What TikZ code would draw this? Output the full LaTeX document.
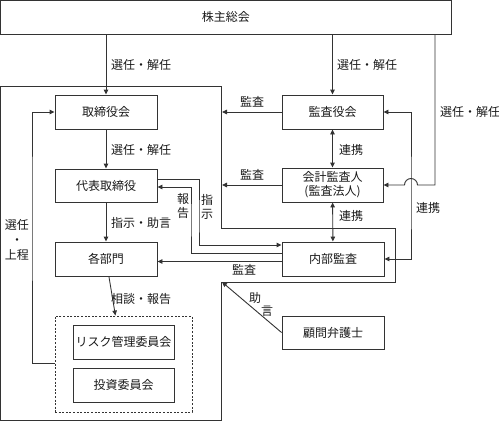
\documentclass[tikz,border=0pt]{standalone}
\usepackage{fontspec}
\setmainfont{Noto Sans CJK JP}
\usetikzlibrary{arrows.meta}
\begin{document}
\begin{tikzpicture}[x=1pt,y=-1pt,
  every node/.style={font=\fontsize{12}{13.5}\selectfont, text=black!90},
  box/.style={draw=black!80, line width=0.9pt, minimum width=102pt, minimum height=34pt, inner sep=0pt, align=center},
  ln/.style={draw=black!80, line width=0.9pt},
  arr/.style={ln, -{Triangle[length=5pt,width=4.5pt]}},
  darr/.style={ln, {Triangle[length=5pt,width=4.5pt]}-{Triangle[length=5pt,width=4.5pt]}},
  lbl/.style={inner sep=0pt}]
\useasboundingbox (0,0) rectangle (499,421);

% outer boundary (company)
\draw[ln] (0.5,86) -- (221.5,86) -- (221.5,228) -- (395,228) -- (395,282) -- (221.5,282) -- (221.5,420.5) -- (0.5,420.5) -- cycle;

% nodes
\node[box, minimum width=450.5pt, minimum height=33.5pt] (top) at (225.75,17.25) {株主総会};
\node[box] (board) at (106,112) {取締役会};
\node[box, minimum height=33pt] (rep) at (106,185.5) {代表取締役};
\node[box] (dept) at (106,259) {各部門};
\node[draw=black!80, line width=0.9pt, dash pattern=on 2pt off 1.6pt, minimum width=137pt, minimum height=96pt, inner sep=0pt] (grp) at (123.5,364) {};
\node[box, minimum width=101pt] (risk) at (123.5,342) {リスク管理委員会};
\node[box, minimum width=101pt] (inv) at (123.5,385) {投資委員会};
\node[box, minimum width=101pt] (kansa) at (332.5,112) {監査役会};
\node[box, minimum width=101pt, font=\fontsize{12}{14}\selectfont] (acct) at (332.5,185) {会計監査人\\(監査法人)};
\node[box] (naibu) at (333,259) {内部監査};
\node[box, minimum height=33pt] (komon) at (333,332.5) {顧問弁護士};

% helper coordinates
\coordinate (ob) at (222,0);
\coordinate (c3) at (435,100);
\coordinate (nc) at (222,282);

% shareholders' meeting
\draw[arr] (top.south -| board) -- (board.north);
\draw[arr] (top.south -| kansa) -- (kansa.north);
\draw[arr] (top.south -| c3) -- (c3 |- acct.east) -- (417.5,185) arc[start angle=0, end angle=180, radius=6.5pt] -- (acct.east);
\node[lbl, anchor=west] at (111,65) {選任・解任};
\node[lbl, anchor=west] at (337,65) {選任・解任};
\node[lbl, anchor=west] at (440,112) {選任・解任};

% board chain
\draw[arr] (board) -- (rep);
\node[lbl, anchor=west] at (111,150) {選任・解任};
\draw[arr] (rep) -- (dept);
\node[lbl, anchor=west] at (111,223) {指示・助言};
\draw[arr] (dept) -- (grp);
\node[lbl, anchor=west] at (111,299) {相談・報告};
\draw[arr] (grp.west |- 0,363) -| (32,200) |- (board.west);
\node[lbl, align=center, font=\fontsize{12}{15}\selectfont] at (17,240) {選任\\・\\上程};

% audit
\draw[arr] (kansa.west) -- (kansa.west -| ob);
\node[lbl] at (252,102) {監査};
\draw[arr] (acct.west) -- (acct.west -| ob);
\node[lbl] at (252,175) {監査};
\draw[darr] (kansa) -- (acct);
\node[lbl] at (351,150) {連携};
\draw[darr] (acct) -- (naibu);
\node[lbl] at (351,216) {連携};
\draw[darr] (kansa.east) -| (411,200) |- (naibu.east);
\node[lbl] at (428,208) {連携};

% internal audit <-> representative
\draw[arr] ([yshift=6.5pt]rep.east) -| (199,220) |- ([yshift=14pt]naibu.west);
\draw[arr] ([yshift=6pt]naibu.west) -| (191,220) |- ([yshift=-1.5pt]rep.east);
\node[lbl, align=center] at (183,206) {報\\告};
\node[lbl, align=center] at (207,207) {指\\示};
\draw[arr] ([yshift=-2.5pt]naibu.west) -- ([yshift=-2.5pt]naibu.west -| dept.east);
\node[lbl] at (244,270) {監査};

% lawyer
\draw[arr] (komon.west) -- (nc);
\node[lbl] at (255,298) {助};
\node[lbl] at (267,311) {言};
\end{tikzpicture}
\end{document}
